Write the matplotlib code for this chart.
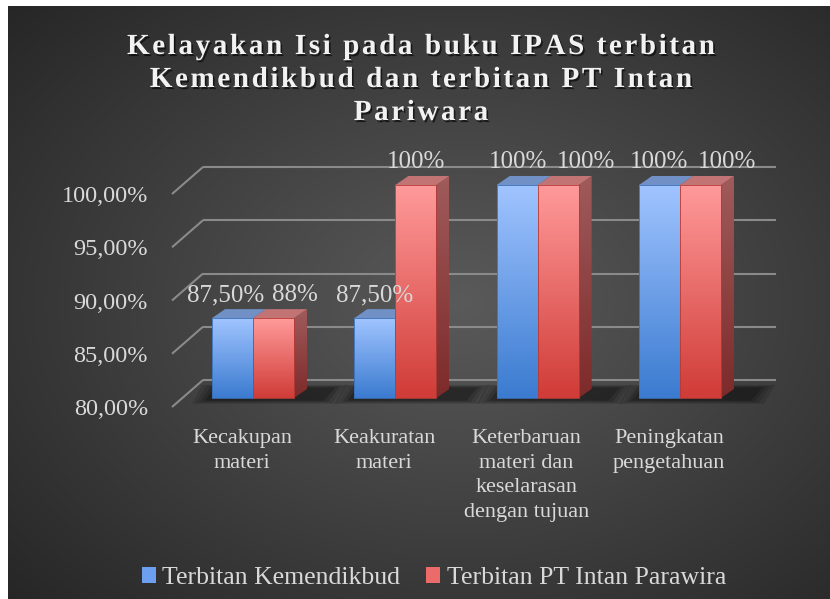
import numpy as np
import matplotlib
matplotlib.use('Agg')
import matplotlib.pyplot as plt
from matplotlib.patches import Polygon, Patch
import matplotlib.patheffects as pe

# data
categories = ['Kecakupan\nmateri', 'Keakuratan\nmateri',
              'Keterbaruan\nmateri dan\nkeselarasan\ndengan tujuan',
              'Peningkatan\npengetahuan']
kemendikbud = [87.5, 87.5, 100, 100]
intan = [87.5, 100, 100, 100]
kemendikbud_labels = ['87,50%', '87,50%', '100%', '100%']
intan_labels = ['88%', '100%', '100%', '100%']
yticks = [80, 85, 90, 95, 100]
ytick_labels = ['80,00%', '85,00%', '90,00%', '95,00%', '100,00%']
series_names = ['Terbitan Kemendikbud', 'Terbitan PT Intan Parawira']
title_lines = ['Kelayakan Isi pada buku IPAS terbitan',
               'Kemendikbud dan terbitan PT Intan',
               'Pariwara']

W, H = 830, 599
fig = plt.figure(figsize=(W / 100, H / 100), dpi=100)
fig.patch.set_facecolor('white')

# background with radial gradient
bg = fig.add_axes([8 / W, 0, 1 - 8 / W, 1 - 6 / H])
bg.set_axis_off()
yy, xx = np.mgrid[0:1:300j, 0:1:400j]
r = np.sqrt(((xx - 0.55) / 0.75) ** 2 + ((yy - 0.5) / 0.75) ** 2)
r = np.clip(r, 0, 1)
c0 = np.array([0x5a, 0x5a, 0x5a]) / 255
c1 = np.array([0x26, 0x26, 0x26]) / 255
img = c0[None, None, :] * (1 - r[..., None]) + c1[None, None, :] * r[..., None]
bg.imshow(img, extent=[0, 1, 0, 1], aspect='auto', origin='lower')
bg.set_xlim(0, 1)
bg.set_ylim(0, 1)

# plot axes (data units: x = category index, y = percent)
pxx = 142.33   # px per category
pxy = 10.65    # px per percent
ax_l, ax_r, ax_b, ax_t = 155, 800, 420, 140
ax = fig.add_axes([ax_l / W, 1 - ax_b / H, (ax_r - ax_l) / W, (ax_b - ax_t) / H])
ax.set_facecolor('none')
for s in ax.spines.values():
    s.set_visible(False)

bw = 41 / pxx
ddx, ddy = 13 / pxx, 9 / pxy          # bar depth
fdy = -9 / pxy                        # floor front vs bar front
bky = 18 / pxy                        # back wall vs bar front
wall_front = (172 - 253) / pxx
wall_back = (203 - 253) / pxx
grid_right = (776 - 253) / pxx

grid_col = '#8a8a8a'
for v in yticks:
    ax.plot([wall_front, wall_back], [v + fdy, v + bky],
            color=grid_col, lw=1.5, zorder=1, solid_capstyle='butt')
    ax.plot([wall_back, grid_right], [v + bky, v + bky], color=grid_col, lw=1.5,
            zorder=1, solid_capstyle='butt')


def gradient(ax, patch, x0, x1, y0, y1, cbot, ctop, z):
    cb = np.array(matplotlib.colors.to_rgb(cbot))
    ct = np.array(matplotlib.colors.to_rgb(ctop))
    t = np.linspace(0, 1, 100)[:, None, None]
    g = cb * (1 - t) + ct * t
    im = ax.imshow(g, extent=[x0, x1, y0, y1], origin='lower', aspect='auto',
                   zorder=z, interpolation='bilinear')
    im.set_clip_path(patch)


x = np.arange(len(categories))
base = 80

# shadows on floor
for i in range(len(categories)):
    x0 = i - bw
    x1 = i + bw + ddx
    for k, a in zip(range(4), [0.12, 0.12, 0.15, 0.2]):
        e = (3 - k) * 0.03
        ey = (3 - k) * 0.25
        sh = Polygon([(x0 - 0.05 - e, base - 0.25 - ey * 0.4), (x1 + 0.12 + e, base - 0.25 - ey * 0.4),
                      (x1 + 0.2 + e, base + 1.0 + ey * 0.3), (x0 + 0.02 - e, base + 1.0 + ey * 0.3)],
                     closed=True, facecolor='black', edgecolor='none', alpha=a, zorder=2)
        ax.add_patch(sh)

blue_bars = ax.bar(x - bw / 2, np.array(kemendikbud) - base, bottom=base, width=bw,
                   color='none', edgecolor='#3a6fb8', linewidth=0.6, zorder=4)
red_bars = ax.bar(x + bw / 2, np.array(intan) - base, bottom=base, width=bw,
                  color='none', edgecolor='#b53a36', linewidth=0.6, zorder=6)

for i in range(len(categories)):
    for bars, vals, cols, z in [(blue_bars, kemendikbud, ('#3b7bd0', '#a0c4ff', '#7090c6', '#4a6fa8', '#2c5aa0'), 3),
                                (red_bars, intan, ('#d03c37', '#ff9a9a', '#c27474', '#a05b5b', '#7d2a2a'), 5)]:
        b = bars[i]
        x0 = b.get_x()
        x1 = x0 + b.get_width()
        top = vals[i]
        gradient(ax, b, x0, x1, base, top, cols[0], cols[1], z)
        # top face
        tf = Polygon([(x0, top), (x1, top), (x1 + ddx, top + ddy), (x0 + ddx, top + ddy)],
                     closed=True, facecolor=cols[2], edgecolor='none', zorder=z)
        ax.add_patch(tf)
        # side face
        sf = Polygon([(x1, base), (x1 + ddx, base + ddy), (x1 + ddx, top + ddy), (x1, top)],
                     closed=True, facecolor='none', edgecolor='none', zorder=z - 0.5)
        ax.add_patch(sf)
        gradient(ax, sf, x1, x1 + ddx, base, top + ddy, cols[4], cols[3], z - 0.5)

# data labels
lab_off_blue = [-7, 0, 1, 0]
lab_off_red = [21, 0, 28, 27]
lab_font = dict(family='Liberation Serif', fontsize=18, color='#d9d9d9')
for i in range(len(categories)):
    ax.annotate(kemendikbud_labels[i], (i - bw / 2, kemendikbud[i] + ddy), xytext=(lab_off_blue[i] * 0.72, 14 * 0.72),
                textcoords='offset points', ha='center', va='center', zorder=10, **lab_font)
    ax.annotate(intan_labels[i], (i + bw / 2, intan[i] + ddy), xytext=(lab_off_red[i] * 0.72, 14 * 0.72),
                textcoords='offset points', ha='center', va='center', zorder=10, **lab_font)

ax.set_xlim((ax_l - 253) / pxx, (ax_r - 253) / pxx)
ax.set_ylim(80 - (ax_b - 398) / pxy, 80 + (398 - ax_t) / pxy)

ax.set_yticks(np.array(yticks) + fdy)
ax.set_yticklabels(ytick_labels, family='Liberation Serif', fontsize=17.5, color='#d9d9d9')
ax.set_xticks(x - 11 / pxx)
ax.set_xticklabels(categories, family='Liberation Serif', fontsize=16, color='#d9d9d9',
                   linespacing=1.4)
ax.tick_params(axis='y', length=0, pad=5)
ax.tick_params(axis='x', length=0, pad=6.5)


# title with letter spacing
def spaced_line(text, xc, yc, spacing, **kw):
    rend = fig.canvas.get_renderer()
    t = fig.text(0, 0, 'HH', **kw)
    wHH = t.get_window_extent(rend).width
    t.remove()
    widths = []
    for ch in text:
        t = fig.text(0, 0, 'H' + ch + 'H', **kw)
        widths.append(t.get_window_extent(rend).width - wHH)
        t.remove()
    total = sum(widths) + spacing * (len(text) - 1)
    xp = xc - total / 2
    for ch, w in zip(text, widths):
        if ch != ' ':
            fig.text(xp / W, 1 - yc / H, ch, ha='left', va='baseline', **kw)
        xp += w + spacing


tkw = dict(family='Liberation Serif', fontweight='bold', fontsize=21, color='#f2f2f2',
           path_effects=[pe.withSimplePatchShadow(offset=(1.2, -1.5), shadow_rgbFace='black', alpha=0.6)])
for ln, yb in zip(title_lines, [54, 87, 120]):
    spaced_line(ln, 421, yb, 2.6, **tkw)

# legend
handles = [Patch(facecolor='#6d9ff0', edgecolor='none'),
           Patch(facecolor='#ea6b69', edgecolor='none')]
leg = fig.legend(handles, series_names, loc='center', bbox_to_anchor=(434 / W, 1 - 578 / H),
                 ncol=2, frameon=False, handlelength=0.55, handleheight=0.55,
                 handletextpad=0.25, columnspacing=1.0,
                 prop=dict(family='Liberation Serif', size=18.5))
for t in leg.get_texts():
    t.set_color('#d9d9d9')

fig.savefig('out.png', dpi=100, facecolor=fig.get_facecolor())
